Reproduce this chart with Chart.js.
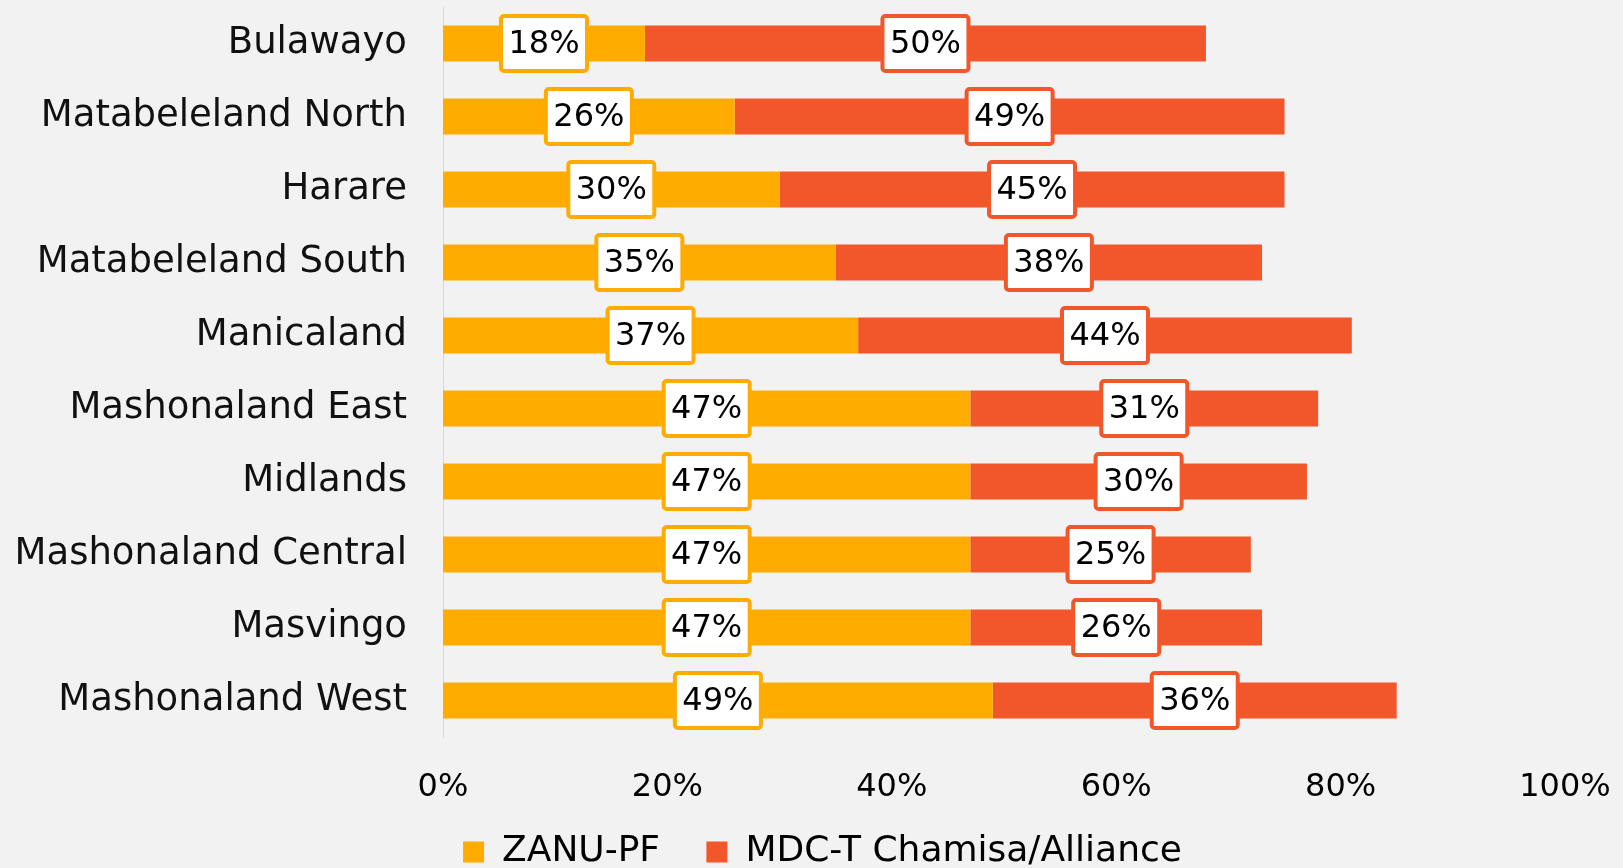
<!DOCTYPE html>
<html>
<head>
<meta charset="utf-8">
<script src="https://cdn.jsdelivr.net/npm/chart.js@4.4.0/dist/chart.umd.min.js"></script>
<style>
  html, body { margin: 0; padding: 0; background: #f2f2f2; overflow: hidden; }
  body { width: 1623px; height: 868px; }
  #wrap { width: 1623px; height: 880px; }
</style>
</head>
<body>
<div id="wrap"><canvas id="bars"></canvas></div>
<script>
const provinces = ['Bulawayo', 'Matabeleland North', 'Harare', 'Matabeleland South', 'Manicaland',
  'Mashonaland East', 'Midlands', 'Mashonaland Central', 'Masvingo', 'Mashonaland West'];
const zanuPf = [18, 26, 30, 35, 37, 47, 47, 47, 47, 49];
const mdcAlliance = [50, 49, 45, 38, 44, 31, 30, 25, 26, 36];
const xTicks = [0, 20, 40, 60, 80, 100];

const FONT = '"DejaVu Sans", sans-serif';
const YELLOW = '#FFAB00';
const RED = '#F2572C';

// white boxed value labels in the middle of each segment
const boxLabels = {
  id: 'boxLabels',
  afterDatasetsDraw(chart) {
    const ctx = chart.ctx;
    chart.data.datasets.forEach((ds, i) => {
      const meta = chart.getDatasetMeta(i);
      meta.data.forEach((bar, j) => {
        const cx = (bar.x + bar.base) / 2;
        const cy = bar.y;
        const w = 86, h = 55;
        ctx.save();
        ctx.beginPath();
        ctx.roundRect(cx - w / 2, cy - h / 2, w, h, 3);
        ctx.fillStyle = '#ffffff';
        ctx.fill();
        ctx.lineWidth = 4;
        ctx.strokeStyle = ds.backgroundColor;
        ctx.stroke();
        ctx.fillStyle = '#000';
        ctx.font = '32px ' + FONT;
        ctx.textAlign = 'center';
        ctx.textBaseline = 'middle';
        ctx.fillText(ds.data[j] + '%', cx, cy + 1);
        ctx.restore();
      });
    });
  }
};

// legend sits a bit right of centre in the original
const nudgeLegend = {
  id: 'nudgeLegend',
  afterLayout(chart) {
    if (chart.legend) chart.legend.right += 80;
  }
};

new Chart(document.getElementById('bars'), {
  type: 'bar',
  data: {
    labels: provinces,
    datasets: [
      { label: 'ZANU-PF', data: zanuPf, backgroundColor: YELLOW },
      { label: 'MDC-T Chamisa/Alliance', data: mdcAlliance, backgroundColor: RED }
    ]
  },
  options: {
    indexAxis: 'y',
    responsive: true,
    maintainAspectRatio: false,
    animation: false,
    categoryPercentage: 0.5,
    barPercentage: 0.99,
    layout: { padding: { top: 7, right: 58, left: 0, bottom: 0 } },
    scales: {
      x: {
        stacked: true,
        min: 0,
        max: 100,
        afterBuildTicks: (axis) => { axis.ticks = xTicks.map(v => ({ value: v })); },
        grid: { display: false, drawTicks: false },
        border: { display: false },
        ticks: {
          padding: 31,
          color: '#000',
          font: { family: FONT, size: 32 },
          callback: (v) => v + '%'
        },
        afterFit: (axis) => {
          axis.height = 85;
          axis.paddingLeft = 0;
          axis.paddingRight = 0;
        }
      },
      y: {
        stacked: true,
        grid: { display: false, drawTicks: false },
        border: { display: true, color: '#d9d9d9', width: 1 },
        ticks: {
          padding: 36,
          color: '#111',
          font: { family: FONT, size: 37 }
        },
        afterFit: (axis) => {
          axis.width = 443;
          axis.paddingTop = 0;
          axis.paddingBottom = 0;
        }
      }
    },
    plugins: {
      legend: {
        position: 'bottom',
        labels: {
          color: '#000',
          font: { family: FONT, size: 36 },
          boxWidth: 21,
          boxHeight: 21,
          padding: 12,
          generateLabels: (chart) => Chart.defaults.plugins.legend.labels.generateLabels(chart)
            .map((item, i) => ({ ...item, text: i === 0 ? item.text + '   ' : item.text }))
        }
      },
      tooltip: { enabled: false }
    }
  },
  plugins: [boxLabels, nudgeLegend]
});
</script>
</body>
</html>
